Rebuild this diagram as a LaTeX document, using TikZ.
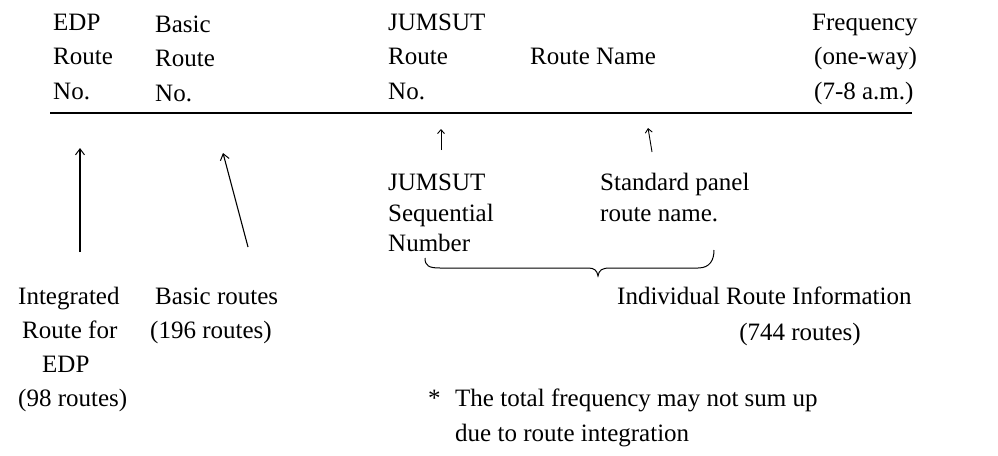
\documentclass[tikz,border=0pt]{standalone}
\usepackage{fontspec}
\setmainfont{Liberation Serif}
\usetikzlibrary{arrows.meta}
\begin{document}
\begin{tikzpicture}[x=1pt,y=-1pt,
  txt/.style={anchor=base west,inner sep=0pt,font=\fontsize{25}{34}\selectfont},
  ctxt/.style={anchor=base,inner sep=0pt,font=\fontsize{25}{34}\selectfont},
  ptr/.style={line width=1.1pt,-{Straight Barb[length=6pt,width=9pt,line width=1pt]}},
  sptr/.style={line width=0.9pt,-{Straight Barb[length=4pt,width=7pt,line width=0.9pt]}},
  rule/.style={line width=1.2pt}]
\useasboundingbox (0,0) rectangle (998,455);
% header
\node[txt] (h1a) at (53,30) {EDP};
\node[txt] (h1b) at (53,64) {Route};
\node[txt] (h1c) at (53,99) {No.};
\node[txt] (h2a) at (155,32) {Basic};
\node[txt] (h2b) at (155,66) {Route};
\node[txt] (h2c) at (155,101) {No.};
\node[txt] (h3a) at (388,30) {JUMSUT};
\node[txt] (h3b) at (388,64) {Route};
\node[txt] (h3c) at (388,99) {No.};
\node[txt] (h4) at (530,64) {Route Name};
\node[txt] (h5a) at (812,30) {Frequency};
\node[txt] (h5b) at (814,64) {(one-way)};
\node[txt] (h5c) at (814,99) {(7-8 a.m.)};
\coordinate (rl) at (50,113);
\coordinate (rr) at (912,113);
\draw[rule] (rl) -- (rr);
% arrows
\coordinate (a1s) at (80,252);
\coordinate (a1e) at (80,148);
\coordinate (a2s) at (248,247);
\coordinate (a2e) at (223,153);
\coordinate (a3s) at (441,150);
\coordinate (a3e) at (441,129);
\coordinate (a4s) at (652,152);
\coordinate (a4e) at (648,128);
\draw[ptr] (a1s) -- (a1e);
\draw[ptr] (a2s) -- (a2e);
\draw[sptr] (a3s) -- (a3e);
\draw[sptr] (a4s) -- (a4e);
% middle labels
\node[txt] (j1) at (388,190) {JUMSUT};
\node[txt] (j2) at (388,221) {Sequential};
\node[txt] (j3) at (388,251) {Number};
\node[txt] (s1) at (600,190) {Standard panel};
\node[txt] (s2) at (600,221) {route name.};
% brace
\coordinate (bl) at (425,258);
\coordinate (bm) at (598,276);
\coordinate (br) at (714,250);
\draw[line width=1pt] (bl) .. controls (425,266) and (429,268) .. (440,268) -- (588,268)
  .. controls (594,268) and (597,270) .. (bm)
  .. controls (599,270) and (602,268) .. (610,268) -- (698,268)
  .. controls (710,268) and (714,260) .. (br);
\node[txt] (i1) at (617,304) {Individual Route Information};
\node[ctxt] (i2) at (800,340) {(744 routes)};
% bottom left
\node[txt] (e1) at (18,304) {Integrated};
\node[txt] (e2) at (22,338) {Route for};
\node[txt] (e3) at (42,372) {EDP};
\node[txt] (e4) at (18,406) {(98 routes)};
\node[txt] (b1) at (155,304) {Basic routes};
\node[txt] (b2) at (150,338) {(196 routes)};
% footnote
\node[txt] (st) at (428,406) {*};
\node[txt] (n1) at (455,406) {The total frequency may not sum up};
\node[txt] (n2) at (455,441) {due to route integration};
\end{tikzpicture}
\end{document}
